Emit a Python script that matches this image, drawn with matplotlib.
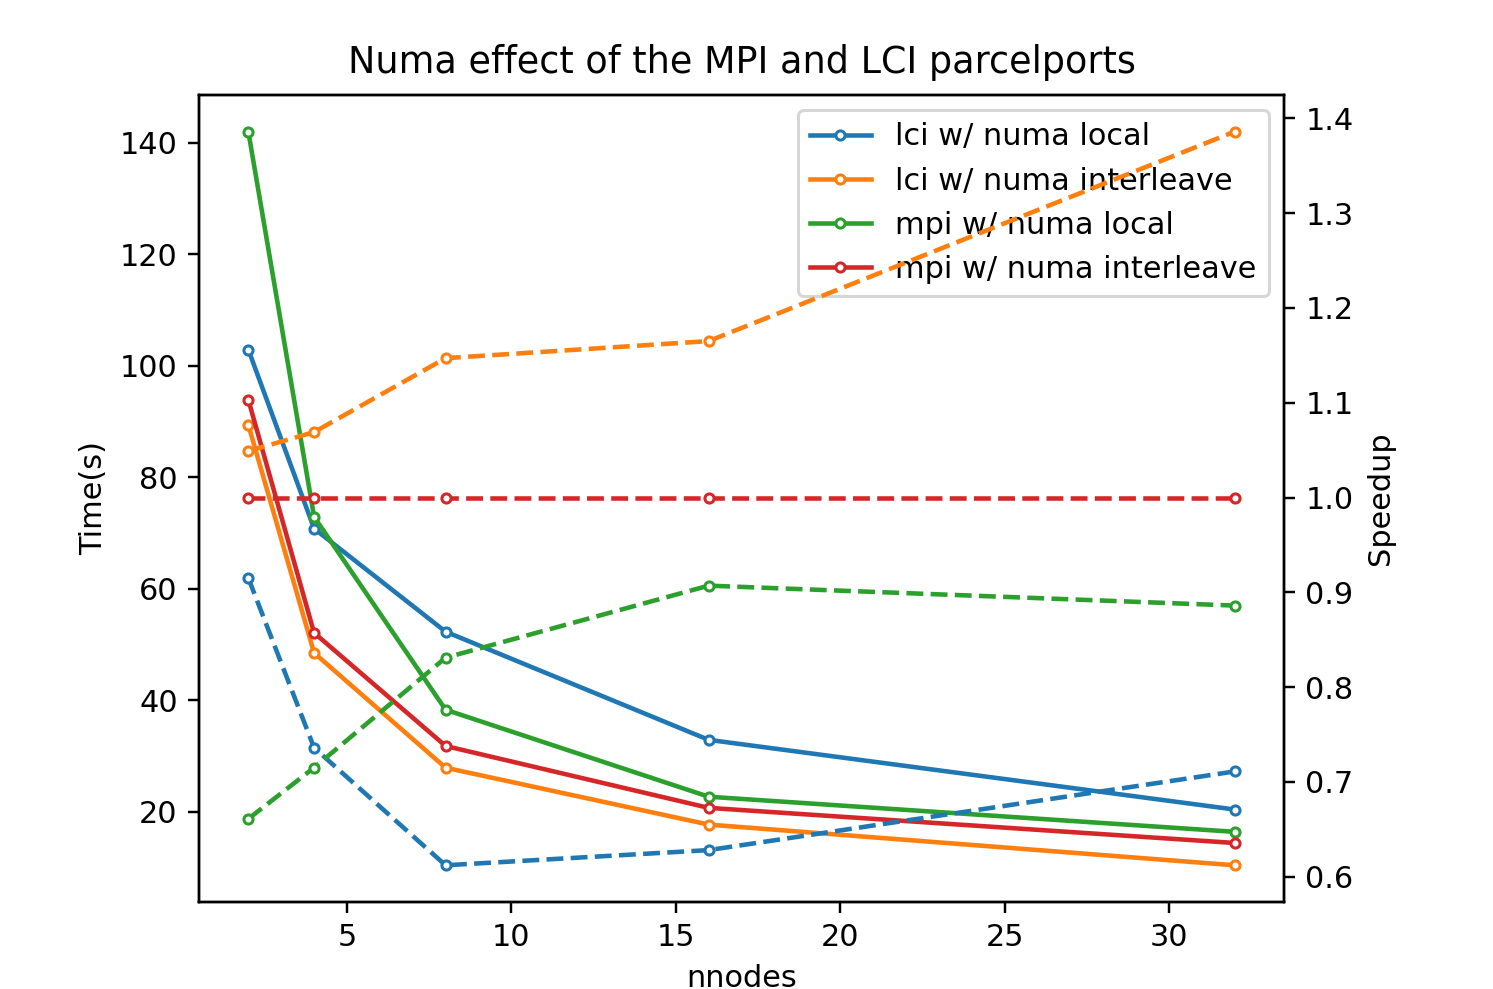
import matplotlib
matplotlib.use("Agg")
import matplotlib.pyplot as plt

nnodes = [2, 4, 8, 16, 32]

# execution time (s)
lci_local_time = [102.9, 70.8, 52.3, 32.9, 20.4]
lci_interleave_time = [89.4, 48.5, 27.9, 17.7, 10.4]
mpi_local_time = [142.0, 72.9, 38.3, 22.7, 16.4]
mpi_interleave_time = [93.9, 52.1, 31.8, 20.7, 14.4]

# speedup relative to mpi w/ numa interleave
lci_local_speedup = [0.915, 0.736, 0.612, 0.628, 0.711]
lci_interleave_speedup = [1.049, 1.069, 1.147, 1.165, 1.386]
mpi_local_speedup = [0.661, 0.715, 0.831, 0.907, 0.886]
mpi_interleave_speedup = [1.0, 1.0, 1.0, 1.0, 1.0]

labels = ["lci w/ numa local", "lci w/ numa interleave",
          "mpi w/ numa local", "mpi w/ numa interleave"]
times = [lci_local_time, lci_interleave_time, mpi_local_time, mpi_interleave_time]
speedups = [lci_local_speedup, lci_interleave_speedup,
            mpi_local_speedup, mpi_interleave_speedup]
colors = ["C0", "C1", "C2", "C3"]

fig = plt.figure(figsize=(1493 / 219, 989 / 219), dpi=219)
ax1 = fig.add_axes([0.1333, 0.088, 0.7267, 0.816])
ax2 = ax1.twinx()

for t, s, lab, c in zip(times, speedups, labels, colors):
    ax1.plot(nnodes, t, "-o", color=c, label=lab, markersize=3, markerfacecolor="white")
    ax2.plot(nnodes, s, "--o", color=c, markersize=3, markerfacecolor="white")

ax1.set_xlabel("nnodes")
ax1.set_ylabel("Time(s)")
ax2.set_ylabel("Speedup")
ax1.set_title("Numa effect of the MPI and LCI parcelports", pad=7.3)
ax1.legend(loc="upper right")

fig.savefig("out.png", dpi=219)
